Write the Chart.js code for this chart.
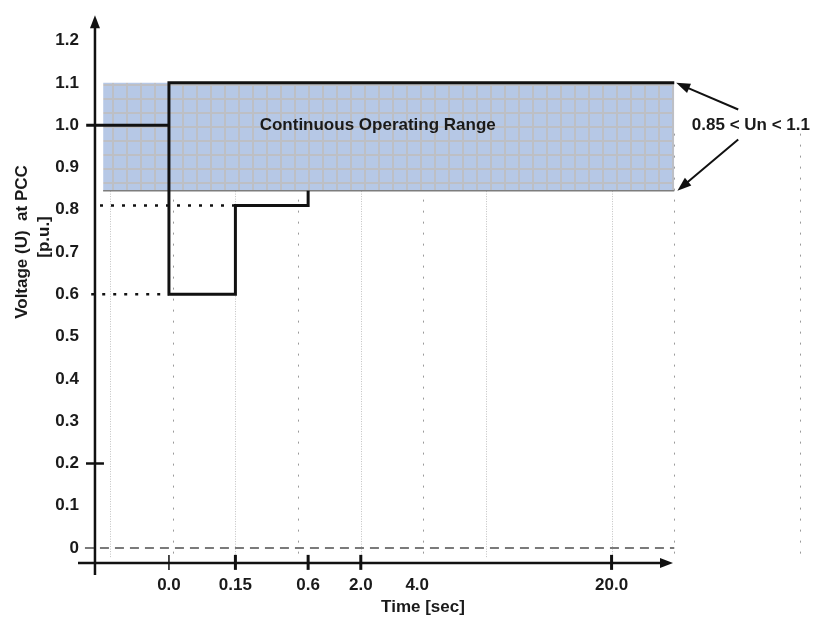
<!DOCTYPE html>
<html lang="en">
<head>
<meta charset="UTF-8">
<title>Voltage at PCC - Continuous Operating Range</title>
<script src="https://cdn.jsdelivr.net/npm/chart.js"></script>
<style>
  body { margin: 0; background: #fff; }
  #wrap { width: 814px; height: 618px; }
</style>
</head>
<body>
<div id="wrap"><canvas id="chart" width="814" height="618"></canvas></div>
<script>
// time axis is schematic (not to scale), every label has its own slot
const timeLabels = ['0.0', '0.15', '0.6', '2.0', '4.0', '20.0'];
const timePos = [0.94, 2.0, 3.16, 4.0, 4.9, 8.0];
const timeTicked = [1.5, 3, 3, 3, 0, 3];   // tick mark width, 0 = none
const voltTicks = [0, 0.1, 0.2, 0.3, 0.4, 0.5, 0.6, 0.7, 0.8, 0.9, 1.0, 1.1, 1.2];

// limit curve (steps) and pre-fault voltage
const curveX = [9.0, 0.94, 0.94, 2.0, 2.0, 3.16, 3.16];
const curveY = [1.1, 1.1, 0.6, 0.6, 0.81, 0.81, 0.845];
const preX = [-0.38, 0.94];
const preY = [1.0, 1.0];

// continuous operating range
const rangeX = [-0.11, 9.0];
const rangeLow = 0.845;
const rangeHigh = 1.1;

// dotted helper levels
const dotLevels = [0.81, 0.6];
const dotFrom = [-0.16, -0.3];
const dotTo = [2.0, 0.94];
const gridX = [0, 1, 2, 3, 4, 5, 6, 8, 9, 11];

const FONT = "'Liberation Sans', Arial, sans-serif";
Chart.defaults.font.family = FONT;

function gridPattern() {
  const c = document.createElement('canvas');
  c.width = 14; c.height = 14;
  const g = c.getContext('2d');
  g.fillStyle = '#b6c8e6';
  g.fillRect(0, 0, 14, 14);
  g.fillStyle = '#bdbfc5';
  g.fillRect(0, 0, 14, 2);
  g.fillRect(0, 0, 2, 14);
  return g.createPattern(c, 'repeat');
}

function pts(xs, ys) {
  return xs.map((v, i) => ({ x: v, y: ys[i] }));
}

function arrow(ctx, x0, y0, x1, y1) {
  const a = Math.atan2(y1 - y0, x1 - x0);
  const c = Math.cos(a), s = Math.sin(a);
  ctx.beginPath();
  ctx.moveTo(x0, y0);
  ctx.lineTo(x1 - 10 * c, y1 - 10 * s);
  ctx.stroke();
  ctx.beginPath();
  ctx.moveTo(x1, y1);
  ctx.lineTo(x1 - 14 * c + 5 * s, y1 - 14 * s - 5 * c);
  ctx.lineTo(x1 - 14 * c - 5 * s, y1 - 14 * s + 5 * c);
  ctx.closePath();
  ctx.fill();
}

const extras = {
  id: 'extras',
  beforeDatasetsDraw(chart) {
    const { ctx, scales: { x, y } } = chart;
    ctx.save();
    gridX.forEach(v => {
      const even = v % 2 === 0;
      const px = Math.round(x.getPixelForValue(v)) + 0.5;
      ctx.beginPath();
      ctx.setLineDash(even ? [1, 1.5] : [2, 9]);
      ctx.strokeStyle = even ? '#c2c2c2' : '#9a9a9a';
      ctx.lineWidth = 1;
      ctx.moveTo(px, y.getPixelForValue(0.98));
      ctx.lineTo(px, y.getPixelForValue(-0.025));
      ctx.stroke();
    });
    ctx.restore();
  },
  afterDatasetsDraw(chart) {
    const { ctx, chartArea, scales: { x, y } } = chart;
    ctx.save();
    ctx.strokeStyle = '#111';
    ctx.fillStyle = '#111';
    ctx.setLineDash([]);

    // y axis with arrow
    const ax = x.getPixelForValue(-0.24);
    ctx.lineWidth = 2.5;
    ctx.beginPath();
    ctx.moveTo(ax, 575);
    ctx.lineTo(ax, chartArea.top + 10);
    ctx.stroke();
    ctx.beginPath();
    ctx.moveTo(ax, chartArea.top);
    ctx.lineTo(ax - 5, chartArea.top + 13);
    ctx.lineTo(ax + 5, chartArea.top + 13);
    ctx.closePath();
    ctx.fill();

    // x axis with arrow
    const ay = y.getPixelForValue(-0.035);
    const xEnd = x.getPixelForValue(8.98);
    ctx.beginPath();
    ctx.moveTo(chartArea.left - 6, ay);
    ctx.lineTo(xEnd - 10, ay);
    ctx.stroke();
    ctx.beginPath();
    ctx.moveTo(xEnd, ay);
    ctx.lineTo(xEnd - 13, ay - 5);
    ctx.lineTo(xEnd - 13, ay + 5);
    ctx.closePath();
    ctx.fill();

    // tick marks
    timePos.forEach((v, i) => {
      if (!timeTicked[i]) return;
      const px = x.getPixelForValue(v);
      ctx.lineWidth = timeTicked[i];
      ctx.beginPath();
      ctx.moveTo(px, ay - 8);
      ctx.lineTo(px, ay + 7);
      ctx.stroke();
    });
    ctx.lineWidth = 2.5;
    ctx.beginPath();
    ctx.moveTo(ax - 9, y.getPixelForValue(0.2));
    ctx.lineTo(ax + 9, y.getPixelForValue(0.2));
    ctx.stroke();

    // range annotation
    ctx.lineWidth = 2;
    const tx = x.getPixelForValue(10.02);
    arrow(ctx, tx, y.getPixelForValue(1.037), x.getPixelForValue(9.03), y.getPixelForValue(rangeHigh));
    arrow(ctx, tx, y.getPixelForValue(0.966), x.getPixelForValue(9.05), y.getPixelForValue(rangeLow));

    ctx.font = 'bold 17px ' + FONT;
    ctx.fillStyle = '#1a1a1a';
    ctx.textBaseline = 'middle';
    ctx.textAlign = 'left';
    ctx.fillText('0.85 < Un < 1.1', x.getPixelForValue(9.28), y.getPixelForValue(1.0));
    ctx.textAlign = 'center';
    ctx.fillText('Continuous Operating Range', x.getPixelForValue(4.27), y.getPixelForValue(1.0));

    // axis titles
    ctx.fillText('Time [sec]', 423, 607);
    ctx.font = 'bold 17px ' + FONT;
    ctx.translate(22, 242);
    ctx.rotate(-Math.PI / 2);
    ctx.fillText('Voltage (U)  at PCC', 0, 0);
    ctx.fillText('[p.u.]', 5, 22);
    ctx.restore();
  }
};

const ctx = document.getElementById('chart').getContext('2d');
new Chart(ctx, {
  type: 'line',
  data: {
    datasets: [
      {
        label: 'limit curve',
        data: pts(curveX, curveY),
        borderColor: '#111',
        borderWidth: 3,
        borderJoinStyle: 'miter',
        pointRadius: 0,
        order: 0
      },
      {
        label: 'pre-fault',
        data: pts(preX, preY),
        borderColor: '#111',
        borderWidth: 3,
        pointRadius: 0,
        order: 1
      },
      ...dotLevels.map((v, i) => ({
        label: 'level ' + v,
        data: pts([dotFrom[i], dotTo[i]], [v, v]),
        borderColor: '#111',
        borderWidth: 2.5,
        borderDash: [3, 8],
        pointRadius: 0,
        order: 2
      })),
      {
        label: 'zero',
        data: pts([-0.4, 9.0], [0, 0]),
        borderColor: '#7a7a7a',
        borderWidth: 2,
        borderDash: [9, 6],
        pointRadius: 0,
        order: 3
      },
      {
        label: 'range edge',
        data: pts(rangeX, [rangeLow, rangeLow]),
        borderColor: '#7d7d7d',
        borderWidth: 1.5,
        pointRadius: 0,
        order: 4
      },
      {
        label: 'Continuous Operating Range',
        data: pts(rangeX, [rangeHigh, rangeHigh]),
        borderWidth: 0,
        pointRadius: 0,
        backgroundColor: gridPattern(),
        fill: { value: rangeLow },
        order: 5
      }
    ]
  },
  options: {
    responsive: false,
    animation: false,
    layout: { padding: { top: 12, right: 4, left: 0, bottom: 0 } },
    plugins: { legend: { display: false }, tooltip: { enabled: false } },
    scales: {
      x: {
        type: 'linear',
        min: -0.415,
        max: 11.165,
        grid: { display: false, drawTicks: false },
        border: { display: false },
        afterBuildTicks: s => { s.ticks = timePos.map(v => ({ value: v })); },
        afterFit: s => { s.height = 53; },
        ticks: {
          autoSkip: false,
          maxRotation: 0,
          padding: 10,
          color: '#1a1a1a',
          font: { size: 17, weight: 'bold' },
          callback: (v, i) => timeLabels[i]
        }
      },
      y: {
        min: -0.04,
        max: 1.26,
        grid: { display: false, drawTicks: false },
        border: { display: false },
        afterBuildTicks: s => { s.ticks = voltTicks.map(v => ({ value: v })); },
        afterFit: s => { s.width = 84; },
        ticks: {
          padding: 5,
          color: '#1a1a1a',
          font: { size: 17, weight: 'bold' },
          callback: v => v === 0 ? '0' : v.toFixed(1)
        }
      }
    }
  },
  plugins: [extras]
});
</script>
</body>
</html>
